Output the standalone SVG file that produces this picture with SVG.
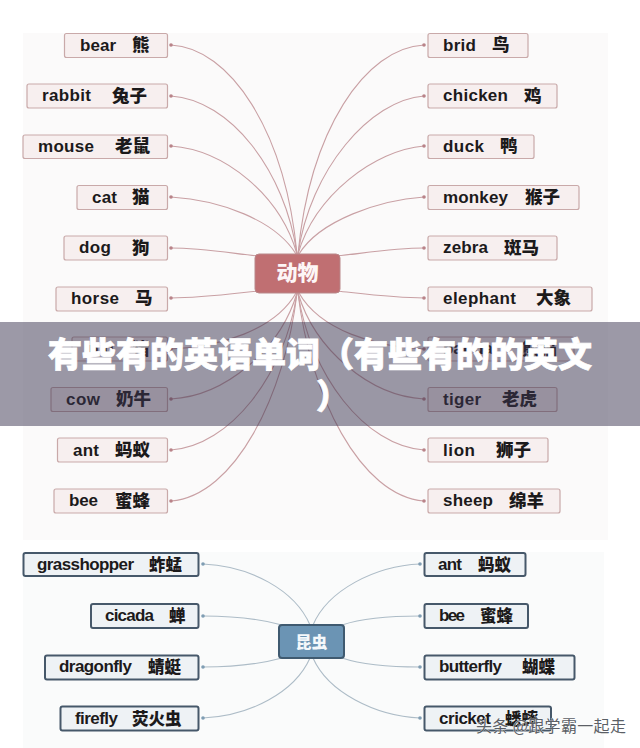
<svg xmlns="http://www.w3.org/2000/svg" width="640" height="748" viewBox="0 0 640 748">
<style>
text{font-family:"Liberation Sans","Noto Sans CJK SC",sans-serif;font-weight:700;font-size:17px;fill:#1c1a1b}
.z{font-family:"Noto Sans CJK SC",sans-serif;font-size:17.500px;font-weight:900}
.y{font-family:"Noto Sans CJK SC",sans-serif;font-size:16.500px;font-weight:900}
.a rect{fill:#f7efef;stroke:#c9a9a9;stroke-width:1.2}
.b rect{fill:#eef2f5;stroke:#46586a;stroke-width:2}
#links1 path{fill:none;stroke:#c9a0a4;stroke-width:1.1}
#links2 path{fill:none;stroke:#adbcc7;stroke-width:1.1}
#links1 circle{fill:#b98389}
#links2 circle{fill:#7f9db3}
.t{font-family:"Noto Sans CJK SC",sans-serif;font-weight:900;font-size:34px;fill:#fff;stroke:#fff;stroke-width:.8}
</style>
<rect width="640" height="748" fill="#fff"/>
<rect x="23" y="33" width="585" height="507" fill="#fbfafa"/>
<rect x="23" y="552" width="581" height="196" fill="#fafbfb"/>
<g id="links1">
<path d="M171 45C230 48 285 130 297 254"/><path d="M171 96C230 100 285 170 297 254"/><path d="M171 146C225 150 280 195 297 254"/><path d="M171 197C220 200 275 220 296 254"/><path d="M171 248C200 248 230 253 258 256"/><path d="M171 298C200 298 230 294 258 291"/>
<path d="M171 349C220 347 275 330 296 293"/><path d="M171 399C225 396 280 350 297 293"/><path d="M171 450C230 446 285 375 297 293"/><path d="M171 501C235 496 285 395 297 293"/>
<path d="M424 45C365 48 310 130 298 254"/><path d="M424 96C370 100 310 170 298 254"/><path d="M424 146C375 150 315 195 298 254"/><path d="M424 197C380 200 320 220 299 254"/><path d="M424 248C395 248 365 253 337 256"/><path d="M424 298C395 298 365 294 337 291"/>
<path d="M424 349C375 347 320 330 299 293"/><path d="M424 399C370 396 315 350 298 293"/><path d="M424 450C365 446 310 375 298 293"/><path d="M424 501C360 496 310 395 298 293"/>
<g><circle cx="171" cy="45" r="1.8"/><circle cx="171" cy="96" r="1.8"/><circle cx="171" cy="146" r="1.8"/><circle cx="171" cy="197" r="1.8"/><circle cx="171" cy="248" r="1.8"/><circle cx="171" cy="298" r="1.8"/><circle cx="171" cy="349" r="1.8"/><circle cx="171" cy="399" r="1.8"/><circle cx="171" cy="450" r="1.8"/><circle cx="171" cy="501" r="1.8"/>
<circle cx="424" cy="45" r="1.8"/><circle cx="424" cy="96" r="1.8"/><circle cx="424" cy="146" r="1.8"/><circle cx="424" cy="197" r="1.8"/><circle cx="424" cy="248" r="1.8"/><circle cx="424" cy="298" r="1.8"/><circle cx="424" cy="349" r="1.8"/><circle cx="424" cy="399" r="1.8"/><circle cx="424" cy="450" r="1.8"/><circle cx="424" cy="501" r="1.8"/></g>
</g>
<g id="links2">
<path d="M203 564C250 566 295 590 310 625"/><path d="M203 616C230 616 260 619 282 625"/><path d="M203 667C230 667 260 664 282 658"/><path d="M203 718C250 716 295 692 310 658"/>
<path d="M420 564C375 566 328 590 313 625"/><path d="M420 616C390 616 360 619 342 625"/><path d="M420 667C390 667 360 664 342 658"/><path d="M420 718C375 716 328 692 313 658"/>
<g><circle cx="203" cy="564" r="1.8"/><circle cx="203" cy="616" r="1.8"/><circle cx="203" cy="667" r="1.8"/><circle cx="203" cy="718" r="1.8"/><circle cx="420" cy="564" r="1.8"/><circle cx="420" cy="616" r="1.8"/><circle cx="420" cy="667" r="1.8"/><circle cx="420" cy="718" r="1.8"/></g>
</g>
<g id="hub-animal"><rect x="255" y="254" width="85" height="39" rx="4" fill="#c06f72" stroke="#b9888a"/><text x="297.500" y="280" text-anchor="middle" style="font-family:'Noto Sans CJK SC',sans-serif;font-size:21px;font-weight:900;fill:#fdf6f6">动物</text></g>
<g id="hub-insect"><rect x="279" y="625" width="65" height="33" rx="3" fill="#6b94b4" stroke="#3f5a70" stroke-width="2"/><text x="311.500" y="648" text-anchor="middle" style="font-family:'Noto Sans CJK SC',sans-serif;font-size:16px;font-weight:900;fill:#f4f8fb">昆虫</text></g>
<g class="a">
<g id="bear"><rect x="64.500" y="33.500" width="103" height="24" rx="2"/><text x="80" y="50.500" textLength="36">bear</text><text class="z" x="132" y="51">熊</text></g>
<g id="rabbit"><rect x="27" y="84" width="140.500" height="24" rx="2"/><text x="42" y="101" textLength="49">rabbit</text><text class="z" x="112" y="102">兔子</text></g>
<g id="mouse"><rect x="23" y="135" width="144.500" height="23.500" rx="2"/><text x="38" y="151.500" textLength="56">mouse</text><text class="z" x="115" y="152">老鼠</text></g>
<g id="cat"><rect x="77" y="185.500" width="90.500" height="24" rx="2"/><text x="92" y="202.500" textLength="25">cat</text><text class="z" x="132" y="203">猫</text></g>
<g id="dog"><rect x="64" y="236" width="103.500" height="24" rx="2"/><text x="79" y="253" textLength="32">dog</text><text class="z" x="132" y="254">狗</text></g>
<g id="horse"><rect x="56" y="287" width="111.500" height="24" rx="2"/><text x="71" y="303.500" textLength="48">horse</text><text class="z" x="135" y="304">马</text></g>
<g id="pig"><rect x="72" y="337" width="95.500" height="24" rx="2"/><text x="88" y="354" textLength="26">pig</text><text class="z" x="132" y="355">猪</text></g>
<g id="cow"><rect x="51" y="387.500" width="116.500" height="24" rx="2"/><text x="66" y="404.500" textLength="34">cow</text><text class="z" x="116" y="405">奶牛</text></g>
<g id="ant"><rect x="57.500" y="438" width="110" height="24" rx="2"/><text x="73" y="455.500" textLength="26">ant</text><text class="z" x="115" y="456">蚂蚁</text></g>
<g id="bee"><rect x="54" y="489" width="113.500" height="24" rx="2"/><text x="69" y="506" textLength="29">bee</text><text class="z" x="115" y="507">蜜蜂</text></g>
<g id="brid"><rect x="428" y="33.500" width="100" height="24" rx="2"/><text x="443" y="50.500" textLength="33">brid</text><text class="z" x="492" y="51">鸟</text></g>
<g id="chicken"><rect x="428" y="84" width="129" height="24" rx="2"/><text x="443" y="101" textLength="65">chicken</text><text class="z" x="524" y="102">鸡</text></g>
<g id="duck"><rect x="428" y="135" width="106" height="23.500" rx="2"/><text x="443" y="151.500" textLength="41">duck</text><text class="z" x="500" y="152">鸭</text></g>
<g id="monkey"><rect x="428" y="185.500" width="151" height="24" rx="2"/><text x="443" y="202.500" textLength="65">monkey</text><text class="z" x="525" y="203">猴子</text></g>
<g id="zebra"><rect x="428" y="236" width="129" height="24" rx="2"/><text x="443" y="253" textLength="45">zebra</text><text class="z" x="504" y="254">斑马</text></g>
<g id="elephant"><rect x="428" y="287" width="164" height="24" rx="2"/><text x="443" y="303.500" textLength="73">elephant</text><text class="z" x="536" y="304">大象</text></g>
<g id="panda"><rect x="428" y="337" width="146" height="24" rx="2"/><text x="443" y="354" textLength="50">panda</text><text class="z" x="522" y="355">熊猫</text></g>
<g id="tiger"><rect x="428" y="387.500" width="129" height="24" rx="2"/><text x="443" y="404.500" textLength="38">tiger</text><text class="z" x="502" y="405">老虎</text></g>
<g id="lion"><rect x="428" y="438" width="120" height="24" rx="2"/><text x="443" y="455.500" textLength="32">lion</text><text class="z" x="496" y="456">狮子</text></g>
<g id="sheep"><rect x="428" y="489" width="132" height="24" rx="2"/><text x="443" y="506" textLength="50">sheep</text><text class="z" x="509" y="507">绵羊</text></g>
</g>
<g class="b">
<g id="grasshopper"><rect x="23.500" y="553" width="175" height="23" rx="2"/><text x="37" y="569.500" textLength="97">grasshopper</text><text class="y" x="149" y="570.500">蚱蜢</text></g>
<g id="cicada"><rect x="91" y="604" width="107.500" height="24" rx="2"/><text x="105" y="621" textLength="49">cicada</text><text class="y" x="169" y="622">蝉</text></g>
<g id="dragonfly"><rect x="45" y="655.500" width="153.500" height="24" rx="2"/><text x="59" y="672" textLength="73">dragonfly</text><text class="y" x="148" y="673">蜻蜓</text></g>
<g id="firefly"><rect x="60.500" y="706.500" width="138" height="24" rx="2"/><text x="75" y="724" textLength="43">firefly</text><text class="y" x="132" y="725">荧火虫</text></g>
<g id="ant2"><rect x="424.500" y="553" width="101" height="23" rx="2"/><text x="438" y="569.500" textLength="24">ant</text><text class="y" x="478" y="570.500">蚂蚁</text></g>
<g id="bee2"><rect x="424.500" y="604" width="103.500" height="24" rx="2"/><text x="439" y="621" textLength="26">bee</text><text class="y" x="480" y="622">蜜蜂</text></g>
<g id="butterfly"><rect x="424.500" y="655.500" width="150" height="24" rx="2"/><text x="439" y="672" textLength="63">butterfly</text><text class="y" x="522" y="673">蝴蝶</text></g>
<g id="cricket"><rect x="424.500" y="706.500" width="126.500" height="24" rx="2"/><text x="439" y="724" textLength="52">cricket</text><text class="y" x="505" y="725">蟋蟀</text></g>
</g>
<text x="476" y="732" textLength="150" style="font-family:'Noto Sans CJK SC',sans-serif;font-weight:400;font-size:16px;fill:#5b5f66;stroke:#fff;stroke-width:.5;paint-order:stroke">头条 @跟学霸一起走</text>
<rect x="0" y="322" width="640" height="104" fill="#3a3450" fill-opacity=".5"/>
<text class="t" x="320" y="367" text-anchor="middle">有些有的英语单词（有些有的的英文</text>
<text class="t" x="333" y="409" text-anchor="middle">）</text>
</svg>
